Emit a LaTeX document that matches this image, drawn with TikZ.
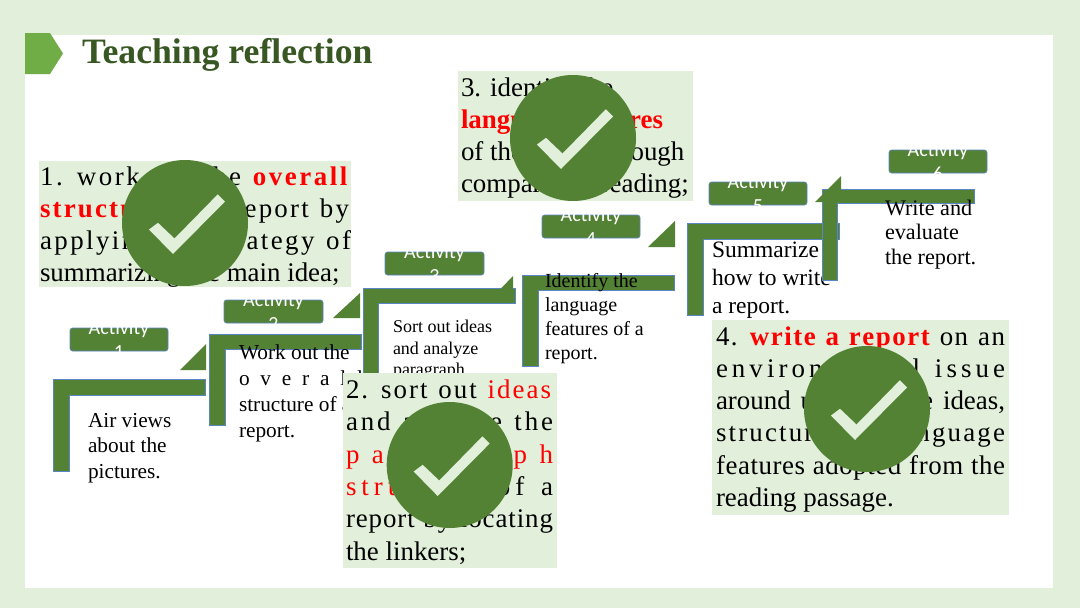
\documentclass[tikz,border=0pt]{standalone}
\usepackage{fontspec}
\setmainfont{Liberation Serif}
\newfontfamily\actfont{Carlito}
\ExplSyntaxOn
\NewDocumentCommand\spr{m}{\text_map_inline:nn{#1}{##1\hskip 0pt plus 1fil\relax}}
\ExplSyntaxOff
\newcommand{\J}[2]{\hbox to #1pt{#2\unskip}}
\definecolor{pagebg}{HTML}{E2EFDA}
\definecolor{leaf}{HTML}{548235}
\definecolor{edgeblue}{HTML}{5B86C6}
\definecolor{tabgreen}{HTML}{70AD47}
\definecolor{titlegreen}{HTML}{385723}
\tikzset{
  x=1pt,y=-1pt,
  ln/.style={anchor=base west,inner sep=0pt,outer sep=0pt,text=black},
  big/.style={ln,font=\fontsize{26.9}{30}\selectfont},
  hl/.style={draw=none,fill=pagebg},
  bent/.style={fill=leaf,draw=edgeblue,line width=.6pt},
  tri/.style={fill=leaf,draw=none},
  act/.style={rounded corners=2.5pt,fill=leaf,draw=edgeblue,line width=.6pt},
  acttxt/.style={align=center,text=white,inner sep=0pt,font=\actfont\fontsize{20}{24.5}\selectfont},
  disc/.style={circle,fill=leaf,draw=none,minimum size=126pt,inner sep=0pt},
  tick/.style={fill=pagebg,draw=none},
}
\newcommand{\tickat}[1]{\fill[tick,shift={(#1)}] (-36,6.5)--(-27,-.2)--(-10.5,15.5)--(32.8,-28.7)--(40,-21.5)--(-12,31)--cycle;}
\newcommand{\bentshape}[6]{\draw[bent] (#1,#2)--(#3,#2)--(#3,#4)--(#5,#4)--(#5,#6)--(#1,#6)--cycle;}
\newcommand{\actbox}[6]{\draw[act] (#1,#2) rectangle (#3,#4);
  \node[acttxt] (#5) at ({(#1+#3)/2},{(#2+#4)/2}) {Activity\\#6};}
\begin{document}
\begin{tikzpicture}
\useasboundingbox (0,0) rectangle (1080,608);
\fill[pagebg] (0,0) rectangle (1080,608);
\fill[white] (25,35) rectangle (1053,588);
\fill[tabgreen] (25,33)--(50,33)--(63,53.5)--(50,74)--(25,74)--cycle;
\node[ln,font=\fontsize{35.7}{38}\selectfont\bfseries,text=titlegreen] (title) at (82,63) {Teaching reflection};

% activity 1
\actbox{70}{328}{168}{351}{a1}{1}
\bentshape{53}{379}{205}{395}{69}{471}
\fill[tri] (180,370)--(206,370)--(206,344)--cycle;
\begin{scope}[every node/.style={ln,font=\fontsize{21.3}{24}\selectfont}]
\node (t1a) at (88,427) {Air views};
\node (t1b) at (88,452) {about the};
\node (t1c) at (88,478) {pictures.};
\end{scope}
% activity 2
\actbox{224}{300}{323}{323}{a2}{2}
\bentshape{209}{334}{361}{349}{225}{425}
\fill[tri] (333,318)--(360,318)--(360,293)--cycle;
\begin{scope}[every node/.style={ln,font=\fontsize{21.3}{24}\selectfont}]
\node (t2a) at (239,359) {Work out the};
\node (t2b) at (239,385) {\J{124}{\spr{overall}}};
\node (t2c) at (239,411) {structure of a};
\node (t2d) at (239,437) {report.};
\end{scope}
% activity 3
\actbox{385}{252}{484}{275}{a3}{3}
\bentshape{363}{288}{515}{303}{378}{380}
\begin{scope}[every node/.style={ln,font=\fontsize{18}{21}\selectfont}]
\node (t3a) at (393,332) {Sort out ideas};
\node (t3b) at (393,354) {and analyze};
\node (t3c) at (393,375) {paragraph};
\end{scope}
\fill[tri] (488,302)--(513,302)--(513,276)--cycle;
% activity 4
\actbox{542}{215}{640}{238}{a4}{4}
\bentshape{522}{275}{674}{290}{538}{366}
\fill[tri] (648,247)--(675,247)--(675,221)--cycle;
\begin{scope}[every node/.style={ln,font=\fontsize{20}{22}\selectfont}]
\node (t4a) at (545,287) {Identify the};
\node (t4b) at (545,311) {language};
\node (t4c) at (545,335) {features of a};
\node (t4d) at (545,359) {report.};
\end{scope}
% activity 5
\actbox{709}{182}{807}{205}{a5}{5}
\bentshape{687}{223}{839}{239}{703}{315}
\begin{scope}[every node/.style={ln,font=\fontsize{23.5}{25}\selectfont}]
\node (t5a) at (712,257) {Summarize};
\node (t5b) at (712,285) {how to write};
\node (t5c) at (712,313) {a report.};
\end{scope}
% activity 6
\actbox{889}{150}{987}{173}{a6}{6}
\bentshape{822}{189}{974}{203}{837}{280}
\fill[tri] (815,202)--(841,202)--(841,176)--cycle;
\begin{scope}[every node/.style={ln,font=\fontsize{22.2}{24}\selectfont}]
\node (t6a) at (885,215) {Write and};
\node (t6b) at (885,239) {evaluate};
\node (t6c) at (885,264) {the report.};
\end{scope}

% reflection 1
\fill[hl] (39,161) rectangle (351,287);
\node[big] (r1a) at (40,185) {\J{310}{\spr{1. work out the }{\color{red}\bfseries\spr{overall}}}};
\node[big] (r1b) at (40,217) {\J{309}{{\color{red}\bfseries\spr{structure }}\spr{of a report by}}};
\node[big] (r1c) at (40,249) {\J{311}{\spr{applying the strategy of}}};
\node[big] (r1d) at (40,281) {summarizing the main idea;};
\node[disc] (c1) at (185,223) {};
\tickat{c1}
% reflection 2
\fill[hl] (343,373) rectangle (557,568);
\node[big] (r2a) at (346,398) {\J{207}{\spr{2. sort out }{\color{red}\spr{ideas}}}};
\node[big] (r2b) at (346,430) {\J{207}{\spr{and analyze the}}};
\node[big] (r2c) at (346,463) {\J{207}{\color{red}\spr{paragraph}}};
\node[big] (r2d) at (346,495) {\J{207}{{\color{red}\spr{structure }}\spr{of a}}};
\node[big] (r2e) at (346,527) {\J{207}{\spr{report by locating}}};
\node[big] (r2f) at (346,560) {the linkers;};
\node[disc] (c2) at (449.7,465) {};
\tickat{c2}
% reflection 3
\fill[hl] (458,71) rectangle (693,201);
\node[big] (r3a) at (461,96) {3. identify the};
\node[big] (r3b) at (461,128) {{\color{red}\bfseries language features}};
\node[big] (r3c) at (461,160) {of the report through};
\node[big] (r3d) at (461,192) {comparative reading;};
\node[disc] (c3) at (573,138) {};
\tickat{c3}
% reflection 4
\fill[hl] (712,320) rectangle (1009,515);
\node[big] (r4a) at (716,345) {\J{289}{\spr{4. }{\color{red}\bfseries\spr{write a report }}\spr{on an}}};
\node[big] (r4b) at (716,377) {\J{289}{\spr{environmental issue}}};
\node[big] (r4c) at (716,409) {\J{289}{around utilizing the ideas,}};
\node[big] (r4d) at (716,441) {\J{289}{\spr{structure and language}}};
\node[big] (r4e) at (716,474) {\J{289}{\spr{features adopted from the}}};
\node[big] (r4f) at (716,506) {reading passage.};
\node[disc] (c4) at (867,409) {};
\tickat{c4}
\end{tikzpicture}
\end{document}
